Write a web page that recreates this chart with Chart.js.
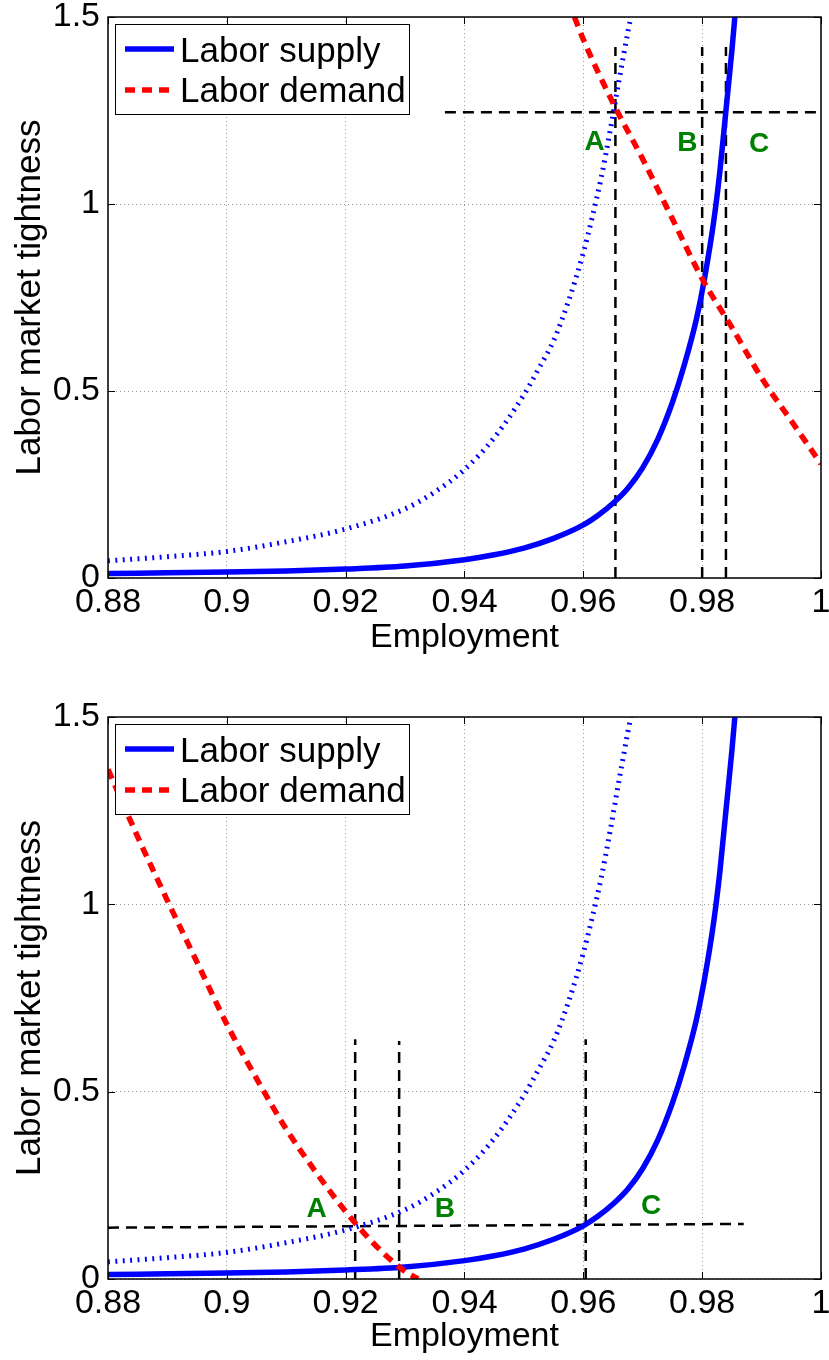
<!DOCTYPE html>
<html>
<head>
<meta charset="utf-8">
<script src="https://cdn.jsdelivr.net/npm/chart.js@4.4.1/dist/chart.umd.min.js"></script>
<style>
  body { margin: 0; background: #fff; }
  canvas { display: block; }
</style>
</head>
<body>
<canvas id="topChart" width="829" height="680"></canvas>
<canvas id="bottomChart" width="829" height="680"></canvas>
<script>
// axis ticks
const xTicks = [0.88, 0.9, 0.92, 0.94, 0.96, 0.98, 1];
const xTickLabels = ['0.88', '0.9', '0.92', '0.94', '0.96', '0.98', '1'];
const yTicks = [0, 0.5, 1, 1.5];
const yTickLabels = ['0', '0.5', '1', '1.5'];

// labor supply (same curve in both panels)
const supplyEmp = [0.88, 0.89, 0.90, 0.91, 0.92, 0.93, 0.94, 0.945, 0.95, 0.955, 0.96, 0.9625, 0.965, 0.9675, 0.97, 0.9725, 0.975, 0.977, 0.979, 0.9805, 0.982, 0.983, 0.984, 0.985, 0.9855];
const supplyTight = [0.012, 0.014, 0.016, 0.019, 0.024, 0.032, 0.049, 0.062, 0.08, 0.106, 0.142, 0.168, 0.2, 0.24, 0.295, 0.37, 0.47, 0.57, 0.69, 0.81, 0.96, 1.09, 1.25, 1.41, 1.5];

// shifted labor supply (dotted, not in legend)
const shiftedEmp = [0.88, 0.89, 0.90, 0.91, 0.92, 0.93, 0.935, 0.94, 0.945, 0.95, 0.9525, 0.955, 0.9575, 0.96, 0.9615, 0.963, 0.9645, 0.966, 0.9675, 0.968];
const shiftedTight = [0.046, 0.057, 0.071, 0.097, 0.131, 0.185, 0.23, 0.29, 0.375, 0.49, 0.56, 0.635, 0.74, 0.87, 0.965, 1.07, 1.195, 1.33, 1.46, 1.5];

// labor demand, top panel
const demandTopEmp = [0.9585, 0.96, 0.965, 0.97, 0.975, 0.98, 0.985, 0.99, 0.995, 1.0];
const demandTopTight = [1.5, 1.44, 1.27, 1.12, 0.96, 0.80, 0.67, 0.535, 0.42, 0.305];

// labor demand, bottom panel
const demandBotEmp = [0.88, 0.885, 0.89, 0.895, 0.9, 0.905, 0.91, 0.915, 0.92, 0.925, 0.93, 0.9322];
const demandBotTight = [1.36, 1.18, 1.01, 0.845, 0.68, 0.535, 0.40, 0.285, 0.18, 0.09, 0.02, 0];

// dashed guide segments [x1, y1, x2, y2]
const guidesTop = [[0.9367, 1.245, 1.0, 1.245], [0.9654, 0, 0.9654, 1.42], [0.98, 0, 0.98, 1.42], [0.984, 0, 0.984, 1.42]];
const guidesBottom = [[0.88, 0.137, 0.987, 0.147], [0.9216, 0, 0.9216, 0.64], [0.929, 0, 0.929, 0.635], [0.9604, 0, 0.9604, 0.64]];

// point labels
const pointNames = ['A', 'B', 'C'];
const pointsTopEmp = [0.9619, 0.9775, 0.9896];
const pointsTopTight = [1.166, 1.163, 1.161];
const pointsBotEmp = [0.9151, 0.9367, 0.9714];
const pointsBotTight = [0.185, 0.185, 0.193];

const FONT = '"Liberation Sans", Arial, Helvetica, sans-serif';
Chart.defaults.font.family = FONT;
Chart.defaults.color = '#000';

const toXY = (xs, ys) => xs.map((x, i) => ({ x: x, y: ys[i] }));

// box, inward ticks, A/B/C labels and legend
const framePlugin = {
  id: 'frame',
  afterDatasetsDraw(chart, args, opts) {
    const { ctx, chartArea: a, scales: { x, y } } = chart;
    ctx.save();
    ctx.setLineDash([]);
    ctx.strokeStyle = '#000';
    ctx.lineWidth = 1;
    ctx.beginPath();
    xTicks.forEach(v => {
      const px = Math.round(x.getPixelForValue(v)) + 0.5;
      ctx.moveTo(px, a.bottom); ctx.lineTo(px, a.bottom - 7);
      ctx.moveTo(px, a.top); ctx.lineTo(px, a.top + 7);
    });
    yTicks.forEach(v => {
      const py = Math.round(y.getPixelForValue(v)) + 0.5;
      ctx.moveTo(a.left, py); ctx.lineTo(a.left + 7, py);
      ctx.moveTo(a.right, py); ctx.lineTo(a.right - 7, py);
    });
    ctx.stroke();
    ctx.lineWidth = 1.5;
    ctx.strokeRect(a.left, a.top, a.right - a.left, a.bottom - a.top);

    ctx.fillStyle = '#008000';
    ctx.font = 'bold 28px ' + FONT;
    ctx.textAlign = 'center';
    ctx.textBaseline = 'middle';
    opts.names.forEach((n, i) => {
      ctx.fillText(n, x.getPixelForValue(opts.emp[i]), y.getPixelForValue(opts.tight[i]));
    });

    // legend
    const bx = a.left + 7, by = a.top + 7;
    ctx.fillStyle = '#fff';
    ctx.fillRect(bx, by, 294, 90);
    ctx.strokeStyle = '#000';
    ctx.lineWidth = 1;
    ctx.strokeRect(bx + 0.5, by + 0.5, 294, 90);
    const items = chart.data.datasets.filter(d => d.inLegend);
    items.forEach((d, i) => {
      const ly = a.top + 32 + i * 41;
      ctx.strokeStyle = d.borderColor;
      ctx.lineWidth = d.borderWidth;
      ctx.setLineDash(d.borderDash || []);
      ctx.beginPath();
      ctx.moveTo(a.left + 17, ly);
      ctx.lineTo(a.left + 66, ly);
      ctx.stroke();
      ctx.setLineDash([]);
      ctx.fillStyle = '#000';
      ctx.font = '35px ' + FONT;
      ctx.textAlign = 'left';
      ctx.textBaseline = 'alphabetic';
      ctx.fillText(d.label, a.left + 72, a.top + 45 + i * 40);
    });
    ctx.restore();
  }
};

function makeChart(id, demandEmp, demandTight, guides, pEmp, pTight, padTop, xHeight, titlePad) {
  const datasets = [
    {
      label: 'Labor supply', inLegend: true, order: 1,
      data: toXY(supplyEmp, supplyTight),
      borderColor: '#0000ff', borderWidth: 5.5,
      cubicInterpolationMode: 'monotone', pointRadius: 0, clip: 0
    },
    {
      label: 'Labor demand', inLegend: true, order: 0,
      data: toXY(demandEmp, demandTight),
      borderColor: '#ff0000', borderWidth: 5.5, borderDash: [10, 7],
      cubicInterpolationMode: 'monotone', pointRadius: 0, clip: 0
    },
    {
      label: 'Shifted supply', order: 2,
      data: toXY(shiftedEmp, shiftedTight),
      borderColor: '#0000ff', borderWidth: 5, borderDash: [1.9, 5.5], borderCapStyle: 'butt',
      cubicInterpolationMode: 'monotone', pointRadius: 0, clip: 0
    }
  ];
  guides.forEach(g => {
    datasets.push({
      label: 'guide', order: 3,
      data: [{ x: g[0], y: g[1] }, { x: g[2], y: g[3] }],
      borderColor: '#000', borderWidth: 2.5, borderDash: [11, 7],
      pointRadius: 0, tension: 0, clip: 0
    });
  });

  return new Chart(document.getElementById(id), {
    type: 'line',
    data: { datasets: datasets },
    plugins: [framePlugin],
    options: {
      responsive: false,
      animation: false,
      devicePixelRatio: 1,
      layout: { autoPadding: false, padding: { top: padTop, right: 8, left: 0, bottom: 0 } },
      plugins: {
        legend: { display: false },
        tooltip: { enabled: false },
        frame: { names: pointNames, emp: pEmp, tight: pTight }
      },
      scales: {
        x: {
          type: 'linear', min: 0.88, max: 1,
          afterBuildTicks: s => { s.ticks = xTicks.map(v => ({ value: v })); },
          afterFit: s => { s.height = xHeight; s.paddingLeft = 0; s.paddingRight = 0; },
          ticks: {
            autoSkip: false, maxRotation: 0, padding: 4,
            font: { size: 34 },
            callback: (v, i) => xTickLabels[i]
          },
          grid: { color: '#9a9a9a', lineWidth: 1, drawTicks: false },
          border: { display: false, dash: [1, 3] },
          title: { display: true, text: 'Employment', font: { size: 34 }, padding: { top: 0, bottom: titlePad } }
        },
        y: {
          type: 'linear', min: 0, max: 1.5,
          afterBuildTicks: s => { s.ticks = yTicks.map(v => ({ value: v })); },
          afterFit: s => { s.width = 108; s.paddingTop = 0; s.paddingBottom = 0; },
          ticks: {
            autoSkip: false, padding: 8,
            font: { size: 34 },
            callback: (v, i) => yTickLabels[i]
          },
          grid: { color: '#9a9a9a', lineWidth: 1, drawTicks: false },
          border: { display: false, dash: [1, 3] },
          title: { display: true, text: 'Labor market tightness', font: { size: 35 }, padding: { top: 9, bottom: 0 } }
        }
      }
    }
  });
}

makeChart('topChart', demandTopEmp, demandTopTight, guidesTop, pointsTopEmp, pointsTopTight, 17, 102, 22);
makeChart('bottomChart', demandBotEmp, demandBotTight, guidesBottom, pointsBotEmp, pointsBotTight, 37, 81, 3);
</script>
</body>
</html>
